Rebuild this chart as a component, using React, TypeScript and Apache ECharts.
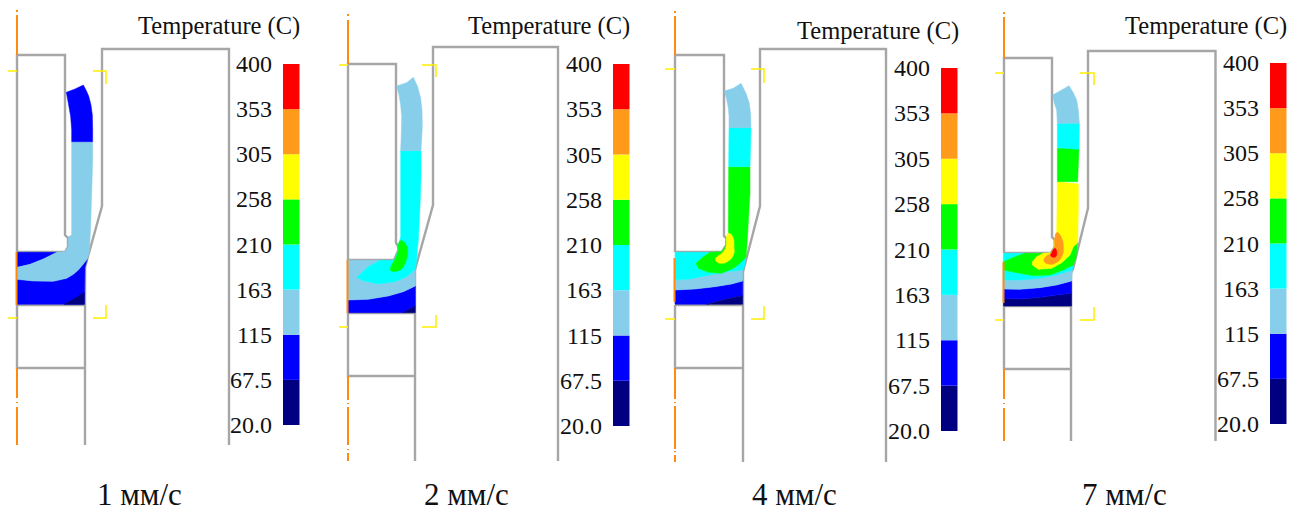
import React, { useEffect, useRef } from "react";
import * as echarts from "echarts";

type Pt = number[];
type Region = [number, Pt[], boolean?];
const WIDTH = 1300;
const HEIGHT = 511;
const SERIF = '"Liberation Serif", "Times New Roman", serif';

const tickLabels = ["20.0", "67.5", "115", "163", "210", "258", "305", "353", "400"];
const bandColors = ["#000080", "#0000FF", "#87CEEB", "#00FFFF", "#00FF00", "#FFFF00", "#FF9A1A", "#FF0000"];
const speedLabels = ["1 мм/с", "2 мм/с", "4 мм/с", "7 мм/с"];
const legendTitle = "Temperature (C)";
const GRAY = "#A6A6A6";
const ORANGE = "#FF8A10";
const YELLOW = "#FFEE00";

// contour regions: [band index, outline, rounded?], outline read at 3x from each panel's crop
const p1Regions: Region[] = [
  [1, [[51,658],[100,663],[160,664],[200,655],[220,643],[235,630],[250,612],[262,597],[255,622],[253,733],[51,733]]],
  [0, [[192,733],[253,733],[253,697],[225,715]]],
  [1, [[51,577],[170,577],[130,597],[90,613],[51,622]]],
  [2, [[215,245],[278,245],[278,300],[275,400],[272,500],[268,575],[262,597],[250,612],[235,630],[220,643],[200,655],[160,664],[100,663],[51,658],[51,622],[90,613],[130,597],[170,577],[195,575],[205,560],[205,530],[215,525],[215,400]]],
  [1, [[215,245],[278,245],[278,210],[277,165],[273,135],[266,108],[258,90],[250,75],[225,87],[199,97],[205,130],[212,170],[215,210]]],
];
const p2Regions: Region[] = [
  [1, [[38,720],[100,718],[160,708],[205,695],[241,678],[241,738],[222,748],[203,758],[38,758]]],
  [0, [[203,758],[241,758],[241,738],[222,748]]],
  [2, [[38,601],[135,601],[100,620],[65,652],[85,662],[130,672],[180,665],[215,650],[241,628],[241,678],[205,695],[160,708],[100,718],[38,720]]],
  [3, [[197,272],[258,272],[258,350],[255,440],[250,540],[243,620],[241,628],[215,650],[180,665],[130,672],[85,662],[65,652],[100,620],[135,601],[178,601],[190,570],[190,555],[197,530],[197,400]]],
  [4, [[197,542],[210,550],[218,570],[215,595],[205,620],[190,632],[168,632],[168,620],[180,598],[190,570],[190,555]], true],
  [2, [[197,272],[258,272],[262,200],[261,150],[257,115],[248,80],[235,52],[215,68],[185,78],[192,105],[197,135],[200,170],[199,220]]],
];
const p3Regions: Region[] = [
  [1, [[30,690],[90,687],[150,680],[200,672],[233,663],[233,707],[185,717],[125,733],[30,733]]],
  [0, [[125,733],[233,733],[233,707],[185,717]]],
  [2, [[30,660],[75,657],[135,645],[185,635],[233,630],[233,663],[200,672],[150,680],[90,687],[30,690]]],
  [3, [[30,577],[135,577],[115,590],[93,610],[100,625],[130,637],[170,640],[205,625],[243,592],[237,625],[233,630],[185,635],[135,645],[75,657],[30,660]]],
  [4, [[191,320],[255,320],[255,400],[252,450],[247,540],[243,592],[225,610],[205,625],[170,640],[130,637],[100,625],[93,610],[115,590],[135,577],[170,575],[184,555],[184,535],[190,520]]],
  [5, [[190,520],[203,530],[207,560],[205,585],[190,603],[170,610],[155,605],[152,595],[175,575],[184,555],[184,535]], true],
  [3, [[192,203],[258,203],[255,320],[191,320]]],
  [2, [[192,203],[258,203],[257,165],[253,130],[243,100],[228,70],[205,85],[178,93],[185,118],[190,145],[192,170]]],
];
const p4Regions: Region[] = [
  [0, [[25,715],[75,717],[135,712],[185,705],[230,700],[230,738],[25,738]]],
  [1, [[25,687],[75,688],[135,683],[185,675],[230,663],[230,700],[185,705],[135,712],[75,717],[25,715]]],
  [2, [[25,660],[75,660],[135,655],[185,645],[232,630],[230,663],[185,675],[135,683],[75,688],[25,687]]],
  [3, [[25,630],[75,640],[115,647],[165,645],[205,630],[235,615],[232,630],[185,645],[135,655],[75,660],[25,660]]],
  [3, [[25,580],[90,580],[60,590],[25,605]]],
  [4, [[25,605],[60,590],[90,580],[145,580],[125,590],[112,605],[112,615],[130,628],[170,625],[200,608],[225,585],[235,560],[248,548],[243,592],[235,615],[205,630],[165,645],[115,647],[75,640],[25,630]]],
  [5, [[187,365],[250,372],[250,450],[248,548],[235,560],[225,585],[200,608],[170,625],[130,628],[112,615],[112,605],[125,590],[145,580],[170,578],[179,560],[179,540],[185,518]]],
  [6, [[185,518],[198,530],[205,560],[200,590],[180,610],[160,612],[147,603],[152,590],[170,578],[179,560],[179,540]], true],
  [7, [[170,578],[179,565],[185,575],[182,590],[170,590],[167,585]], true],
  [4, [[187,265],[252,265],[248,365],[187,365]]],
  [3, [[187,190],[253,190],[252,268],[187,263]]],
  [2, [[173,105],[200,90],[222,77],[235,98],[245,120],[250,150],[253,190],[187,190],[185,150],[178,130]]],
];

const regionSets = [p1Regions, p2Regions, p3Regions, p4Regions];
const cropOriginsX = [0, 335, 665, 995];
const cropOriginY = 60;

const grayStrokes: Pt[][] = [
  [[17,252],[17,55],[65,55],[65,235],[68,238],[68,247],[65,252],[17,252]],
  [[229,445],[229,49],[102,49],[102,206],[87,260],[85,268],[85,445]],
  [[17,305],[85,305]],
  [[17,305],[17,368],[85,368]],
  [[348,260],[348,64],[396,64],[396,243],[398,246],[398.5,250],[394,260],[348,260]],
  [[558,461],[558,47],[433,47],[433,205],[416,266],[415,270],[415,461]],
  [[348,313],[415,313]],
  [[348,313],[348,376],[415,376]],
  [[675,252],[675,55],[724,55],[724,236],[726.3,238.3],[726.3,245],[722,252],[675,252]],
  [[886,462],[886,49],[760,49],[760,206],[744,268],[743,272],[743,462]],
  [[675,305],[743,305]],
  [[675,305],[675,368],[743,368]],
  [[1004,253],[1004,58],[1052,58],[1052,237],[1054.7,240],[1054.7,247],[1051,253],[1004,253]],
  [[1215.5,441],[1215.5,51],[1088,51],[1088,208],[1073,269],[1071,273],[1071,441]],
  [[1004,306],[1071,306]],
  [[1004,306],[1004,369],[1071,369]],
];
const orangeStrokes: Pt[][] = [
  [[17,10],[17,12]],[[17,15],[17,55]],[[16.5,252],[16.5,305]],[[17,368],[17,398]],[[17,402],[17,403]],[[17,407],[17,445]],
  [[348,14],[348,16]],[[348,20],[348,64]],[[347.5,260],[347.5,313]],[[348,376],[348,400]],[[348,403],[348,404]],[[348,407],[348,445]],[[348,449],[348,450]],[[348,453],[348,461]],
  [[675,11],[675,13]],[[675,16],[675,55]],[[674.5,258],[674.5,302]],[[675,368],[675,399]],[[675,402],[675,403]],[[675,406],[675,449]],[[675,451],[675,452]],[[675,455],[675,462]],
  [[1004,12],[1004,14]],[[1004,17],[1004,58]],[[1003.5,262],[1003.5,303]],[[1004,369],[1004,399]],[[1004,403],[1004,404]],[[1004,408],[1004,441]],
];
const yellowStrokes: Pt[][] = [
  [[8,71],[17,71]],[[93,71],[106,71],[106,84]],[[8,318],[17,318]],[[93,318],[106,318],[106,305]],
  [[339,65],[348,65]],[[422,65],[436,65],[436,77]],[[339,327],[348,327]],[[422,327],[436,327],[436,315]],
  [[665,69],[675,69]],[[751,69],[764,69],[764,83]],[[665,319],[675,319]],[[751,319],[764,319],[764,306]],
  [[995,73],[1004,73]],[[1080,73],[1094,73],[1094,85]],[[995,320],[1004,320]],[[1080,320],[1094,320],[1094,307]],
];

const barLeft = [283, 613, 941, 1270];
const barTop = [64, 64, 68, 63];
const barBottom = [425, 426, 431, 424];
const titleLeft = [138, 468, 797, 1125];
const titleTop = [13, 13, 18, 13];
const speedLeft = [97, 424, 752, 1082];

function buildOption() {
  const polygons = regionSets.flatMap((set, p) =>
    set.map(([band, pts, rounded]) => ({
      band,
      rounded,
      points: pts.map(([x, y]) => [cropOriginsX[p] + x / 3, cropOriginY + y / 3]),
    }))
  );
  const strokeSeries = (strokes: Pt[][], color: string, width: number, z: number) =>
    strokes.map((data) => ({
      type: "line",
      xAxisIndex: 0,
      yAxisIndex: 0,
      data,
      symbol: "none",
      silent: true,
      z,
      clip: false,
      lineStyle: { color, width, cap: "butt", join: "miter" },
    }));

  const grids: any[] = [{ left: 0, top: 0, width: WIDTH, height: HEIGHT }];
  const xAxes: any[] = [{ type: "value", min: 0, max: WIDTH, show: false, gridIndex: 0 }];
  const yAxes: any[] = [{ type: "value", min: 0, max: HEIGHT, inverse: true, show: false, gridIndex: 0 }];
  const barSeries: any[] = [];

  barLeft.forEach((left, p) => {
    const gi = p + 1;
    grids.push({ left, top: barTop[p], width: 16.5, height: barBottom[p] - barTop[p] });
    xAxes.push({ type: "category", data: ["T"], gridIndex: gi, show: false });
    yAxes.push({
      type: "value",
      gridIndex: gi,
      min: 0,
      max: 8,
      interval: 1,
      axisLine: { show: false },
      axisTick: { show: false },
      splitLine: { show: false },
      axisLabel: {
        show: true,
        margin: 11,
        color: "#111",
        fontFamily: SERIF,
        fontSize: 24,
        formatter: (v: number) => tickLabels[Math.round(v)],
      },
    });
    bandColors.forEach((color) => {
      barSeries.push({
        type: "bar",
        stack: `bar${p}`,
        xAxisIndex: gi,
        yAxisIndex: gi,
        data: [1],
        barWidth: "100%",
        silent: true,
        itemStyle: { color },
      });
    });
  });

  return {
    animation: false,
    backgroundColor: "#fff",
    grid: grids,
    xAxis: xAxes,
    yAxis: yAxes,
    title: [
      ...titleLeft.map((left, i) => ({
        text: legendTitle,
        left,
        top: titleTop[i],
        padding: 0,
        textStyle: { fontFamily: SERIF, fontSize: 24.5, fontWeight: "normal", color: "#111" },
      })),
      ...speedLeft.map((left, i) => ({
        text: speedLabels[i],
        left,
        top: 479,
        padding: 0,
        textStyle: { fontFamily: SERIF, fontSize: 31, lineHeight: 30, fontWeight: "normal", color: "#111" },
      })),
    ],
    series: [
      ...strokeSeries(grayStrokes, GRAY, 2.4, 3),
      {
        type: "custom",
        coordinateSystem: "cartesian2d",
        xAxisIndex: 0,
        yAxisIndex: 0,
        silent: true,
        clip: false,
        z: 4,
        data: polygons.map((_, i) => [i, i]),
        encode: { x: 0, y: 1 },
        renderItem: (params: any, api: any) => {
          const poly = polygons[params.dataIndex];
          const color = bandColors[poly.band];
          return {
            type: "polygon",
            shape: { points: poly.points.map((pt) => api.coord(pt)), smooth: poly.rounded ? 0.5 : 0 },
            style: { fill: color, stroke: color, lineWidth: 0.5 },
          };
        },
      },
      ...strokeSeries(orangeStrokes, ORANGE, 2, 5),
      ...strokeSeries(yellowStrokes, YELLOW, 1.5, 5),
      ...barSeries,
    ],
  };
}

export default function App() {
  const ref = useRef<HTMLDivElement>(null);
  useEffect(() => {
    document.body.style.margin = "0";
    const chart = echarts.init(ref.current!, undefined, { renderer: "svg", width: WIDTH, height: HEIGHT });
    chart.setOption(buildOption() as any);
    return () => chart.dispose();
  }, []);
  return <div ref={ref} style={{ width: WIDTH, height: HEIGHT, position: "fixed", left: 0, top: 0 }} />;
}
